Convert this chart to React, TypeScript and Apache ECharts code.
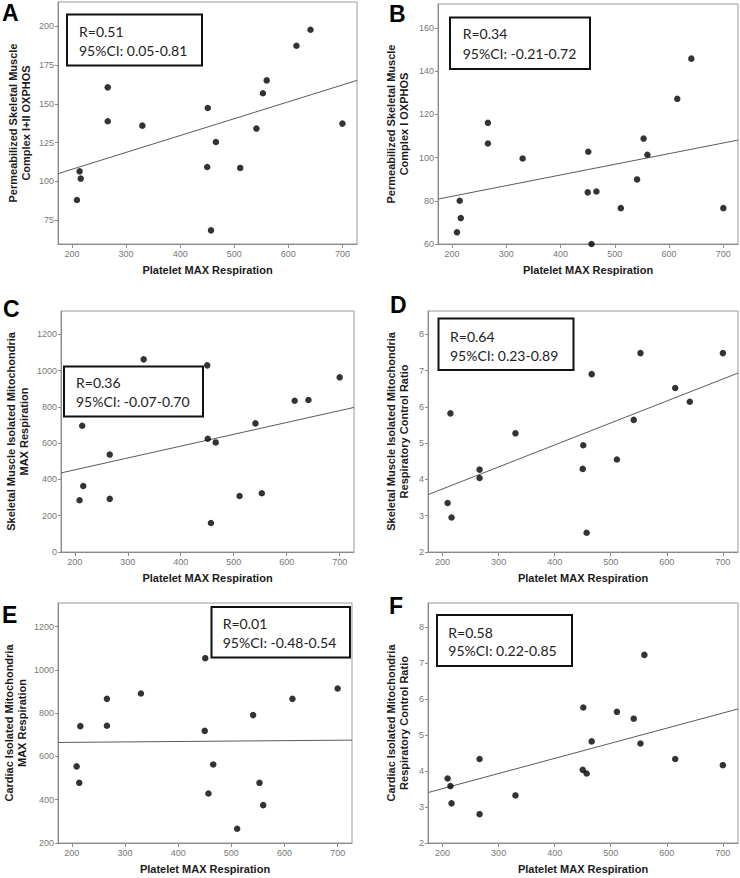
import React, { useEffect, useRef } from "react";
import * as echarts from "echarts";

// Shared x: Platelet MAX Respiration (one value per subject)
const platelet = [209, 214, 216, 266, 266, 330, 450, 451, 457, 466, 511, 541, 553, 560, 615, 641, 700];

// Panel y values (null = no point for that subject)
const yA = [87.9, 106.4, 101.7, 160.6, 138.7, 135.9, 109.2, 147.3, 68.3, 125.3, 108.6, 134, 156.8, 165.1, 187.5, 197.8, 137.2];
const yB = [65.4, 80, 72, 116.1, 106.5, 99.6, 83.9, 102.7, 60, 84.3, 76.6, 89.9, 108.8, 101.3, 127.2, 145.8, 76.6];
const yC = [285, 696, 364, 537, 293, 1062, 1029, 624, 160, 604, 309, 709, 324, null, 834, 838, 963];
const yD = [3.35, 5.82, 2.95, 4.27, 4.04, 5.27, 4.29, 4.94, 2.53, 6.9, 4.55, 5.64, 7.48, null, 6.52, 6.14, 7.48];
const yE = [554, 478, 740, 866, 742, 891, 718, 1054, 429, 563, 266, 791, 478, 375, 866, null, 914];
const yF = [3.79, 3.58, 3.1, 4.33, 2.8, 3.32, 4.03, 5.76, 3.93, 4.82, 5.64, 5.45, 4.76, 7.22, 4.33, null, 4.16];

// Fit line values at the left and right end of the x axis
const fitA = [104.9, 165.1];
const fitB = [80.8, 108.1];
const fitC = [436, 797];
const fitD = [3.58, 6.93];
const fitE = [664.6, 675.4];
const fitF = [3.4, 5.72];

// Tick labels
const xTicks = [200, 300, 400, 500, 600, 700];
const ticksA = [75, 100, 125, 150, 175, 200];
const ticksB = [60, 80, 100, 120, 140, 160];
const ticksC = [0, 200, 400, 600, 800, 1000, 1200];
const ticksD = [2, 3, 4, 5, 6, 7, 8];
const ticksE = [200, 400, 600, 800, 1000, 1200];
const ticksF = [2, 3, 4, 5, 6, 7, 8];

const letters = ["A", "B", "C", "D", "E", "F"];
const rValues = ["R=0.51", "R=0.34", "R=0.36", "R=0.64", "R=0.01", "R=0.58"];
const ciValues = ["95%CI: 0.05-0.81", "95%CI: -0.21-0.72", "95%CI: -0.07-0.70", "95%CI: 0.23-0.89", "95%CI: -0.48-0.54", "95%CI: 0.22-0.85"];
const yNames = [
  "Permeabilized Skeletal Muscle\nComplex I+II OXPHOS",
  "Permeabilized Skeletal Muscle\nComplex I OXPHOS",
  "Skeletal Muscle Isolated Mitochondria\nMAX Respiration",
  "Skeletal Muscle Isolated Mitochondria\nRespiratory Control Ratio",
  "Cardiac Isolated Mitochondria\nMAX Respiration",
  "Cardiac Isolated Mitochondria\nRespiratory Control Ratio",
];
const xName = "Platelet MAX Respiration";
const xMin = 174;
const xMax = 727;

const yData = [yA, yB, yC, yD, yE, yF];
const fits = [fitA, fitB, fitC, fitD, fitE, fitF];
const yTicks = [ticksA, ticksB, ticksC, ticksD, ticksE, ticksF];

// layout (positions / styles)
const layout = [
  { grid: [58, 2, 299, 242], yMin: 59.5, yMax: 215.7, nameGap: 26, letter: [2, 12.5], box: [67, 14.5, 135, 51], text: [79, 31.7, 50] },
  { grid: [438, 4, 300, 240], yMin: 60, yMax: 171.1, nameGap: 28, letter: [389, 14.3], box: [450, 17.5, 140, 51.5], text: [462.7, 33.3, 53.3] },
  { grid: [61, 311, 293, 241], yMin: 0, yMax: 1328.6, nameGap: 31, letter: [3, 308.5], box: [64, 366.5, 139, 50], text: [76, 382.7, 401.7] },
  { grid: [428, 311, 310, 241], yMin: 2, yMax: 8.64, nameGap: 18, letter: [390, 305], box: [438.5, 318.5, 135, 51.5], text: [450, 336.7, 355] },
  { grid: [58, 603, 294, 240], yMin: 200, yMax: 1309, nameGap: 30, letter: [2, 614.5], box: [211.5, 607, 138.5, 50.5], text: [222.7, 623.3, 642.3] },
  { grid: [428, 603, 310, 240], yMin: 2, yMax: 8.66, nameGap: 18, letter: [389, 606], box: [437, 615, 135, 51], text: [448.3, 632.3, 650.7] },
];

const AXIS_FONT = "'Liberation Sans', Arial, sans-serif";
const plain = (v: number) => String(v);

export default function App() {
  const ref = useRef<HTMLDivElement>(null);
  useEffect(() => {
    if (!ref.current) return;
    const chart = echarts.init(ref.current, undefined, { renderer: "svg" });
    const grids: any[] = [];
    const xAxes: any[] = [];
    const yAxes: any[] = [];
    const series: any[] = [];
    const graphics: any[] = [];
    layout.forEach((L, i) => {
      grids.push({
        left: L.grid[0], top: L.grid[1], width: L.grid[2], height: L.grid[3],
        show: true, borderColor: "#9a9a9a", borderWidth: 1, backgroundColor: "#fff",
        containLabel: false,
      });
      xAxes.push({
        type: "value", gridIndex: i, min: xMin, max: xMax,
        name: xName, nameLocation: "middle", nameGap: 20,
        nameTextStyle: { fontFamily: AXIS_FONT, fontWeight: "bold", fontSize: 11, color: "#1a1a1a" },
        axisLine: { show: true, onZero: false, lineStyle: { color: "#8a8a8a", width: 1 } },
        axisTick: { show: true, inside: false, length: 4, customValues: xTicks, lineStyle: { color: "#8a8a8a" } },
        axisLabel: { customValues: xTicks, formatter: plain, fontFamily: AXIS_FONT, fontSize: 9, color: "#777", margin: 5 },
        splitLine: { show: false },
      });
      yAxes.push({
        type: "value", gridIndex: i, min: L.yMin, max: L.yMax,
        name: yNames[i], nameLocation: "middle", nameRotate: 90, nameGap: L.nameGap,
        nameTextStyle: { fontFamily: AXIS_FONT, fontWeight: "bold", fontSize: 11, color: "#1a1a1a", lineHeight: 12.5, align: "center" },
        axisLine: { show: true, onZero: false, lineStyle: { color: "#8a8a8a", width: 1 } },
        axisTick: { show: true, inside: false, length: 3, customValues: yTicks[i], lineStyle: { color: "#8a8a8a" } },
        axisLabel: { customValues: yTicks[i], formatter: plain, fontFamily: AXIS_FONT, fontSize: 9, color: "#777", margin: 4 },
        splitLine: { show: false },
      });
      const pts: number[][] = [];
      platelet.forEach((x, k) => {
        const y = yData[i][k];
        if (y !== null && y !== undefined) pts.push([x, y as number]);
      });
      series.push({
        type: "line", xAxisIndex: i, yAxisIndex: i,
        data: [[xMin, fits[i][0]], [xMax, fits[i][1]]],
        symbol: "none", lineStyle: { color: "#5a5a5a", width: 1 }, silent: true, z: 2,
      });
      series.push({
        type: "scatter", xAxisIndex: i, yAxisIndex: i, data: pts,
        symbol: "circle", symbolSize: 6.5, itemStyle: { color: "#000" }, clip: false, z: 3,
      });
      graphics.push({
        type: "text", x: L.letter[0], y: L.letter[1],
        style: { text: letters[i], font: `bold 23px ${AXIS_FONT}`, fill: "#000", verticalAlign: "middle", align: "left" },
        z: 10,
      });
      graphics.push({
        type: "rect", shape: { x: L.box[0], y: L.box[1], width: L.box[2], height: L.box[3] },
        style: { fill: "#fff", stroke: "#111", lineWidth: 2 }, z: 10,
      });
      graphics.push({
        type: "text", x: L.text[0], y: L.text[1],
        style: { text: rValues[i], font: "14px Lato, 'Open Sans', sans-serif", fill: "#222", verticalAlign: "middle", align: "left" },
        z: 11,
      });
      graphics.push({
        type: "text", x: L.text[0], y: L.text[2],
        style: { text: ciValues[i], font: "14px Lato, 'Open Sans', sans-serif", fill: "#222", verticalAlign: "middle", align: "left" },
        z: 11,
      });
    });
    chart.setOption({
      animation: false,
      backgroundColor: "#fff",
      grid: grids,
      xAxis: xAxes,
      yAxis: yAxes,
      series,
      graphic: graphics,
    });
    return () => chart.dispose();
  }, []);
  return <div ref={ref} style={{ position: "absolute", left: 0, top: 0, width: 740, height: 878 }} />;
}
